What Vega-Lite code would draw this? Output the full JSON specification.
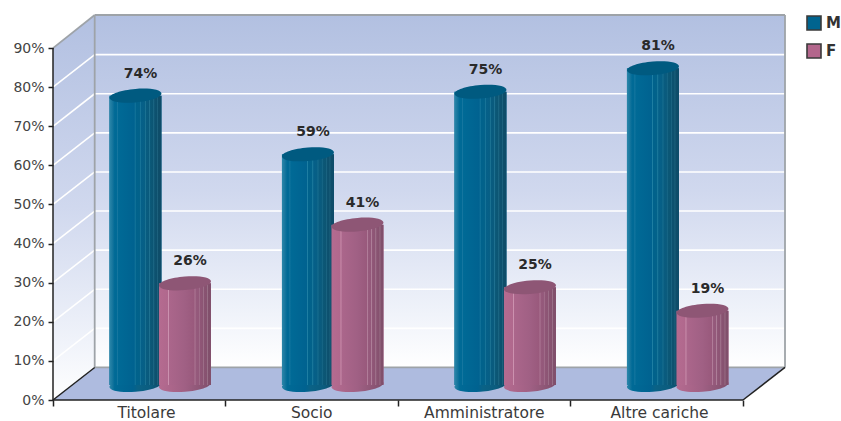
{
  "$schema": "https://vega.github.io/schema/vega-lite/v6.json",
  "width": 732,
  "height": 385,
  "autosize": "none",
  "padding": {"left": 53, "top": 15, "right": 56, "bottom": 21},
  "background": "#ffffff",
  "config": {"view": {"stroke": null}, "font": "DejaVu Sans"},
  "datasets": {
    "bars": [
      {"cat": "Titolare", "sex": "M", "x": 0.478, "y": 74, "label": "74%"},
      {"cat": "Titolare", "sex": "F", "x": 0.765, "y": 26, "label": "26%"},
      {"cat": "Socio", "sex": "M", "x": 1.478, "y": 59, "label": "59%"},
      {"cat": "Socio", "sex": "F", "x": 1.765, "y": 41, "label": "41%"},
      {"cat": "Amministratore", "sex": "M", "x": 2.478, "y": 75, "label": "75%"},
      {"cat": "Amministratore", "sex": "F", "x": 2.765, "y": 25, "label": "25%"},
      {"cat": "Altre cariche", "sex": "M", "x": 3.478, "y": 81, "label": "81%"},
      {"cat": "Altre cariche", "sex": "F", "x": 3.765, "y": 19, "label": "19%"}
    ],
    "bases": [
      {"sex": "M", "x": 0.478, "y": 0},
      {"sex": "F", "x": 0.765, "y": 0},
      {"sex": "M", "x": 1.478, "y": 0},
      {"sex": "F", "x": 1.765, "y": 0},
      {"sex": "M", "x": 2.478, "y": 0},
      {"sex": "F", "x": 2.765, "y": 0},
      {"sex": "M", "x": 3.478, "y": 0},
      {"sex": "F", "x": 3.765, "y": 0}
    ],
    "categories": [
      {"cat": "Titolare", "x": 0.542, "y": 0},
      {"cat": "Socio", "x": 1.5, "y": 0},
      {"cat": "Amministratore", "x": 2.5, "y": 0},
      {"cat": "Altre cariche", "x": 3.516, "y": 0}
    ],
    "leftWall": [
      {"x": 0, "y": 0, "y2": 90},
      {"x": 0.2417, "y": 8.32, "y2": 98.46}
    ],
    "backWall": [
      {"x": 0.2417, "x2": 4.2435, "y": 8.32, "y2": 98.46}
    ],
    "floor": [
      {"x": 0, "y": 0, "y2": 0},
      {"x": 0.2417, "y": 0, "y2": 8.32},
      {"x": 4, "y": 0, "y2": 8.32},
      {"x": 4.2435, "y": 8.32, "y2": 8.32}
    ],
    "grid": [
      {"x": 0, "x2": 0.2417, "y": 10, "y2": 18.32},
      {"x": 0, "x2": 0.2417, "y": 20, "y2": 28.32},
      {"x": 0, "x2": 0.2417, "y": 30, "y2": 38.32},
      {"x": 0, "x2": 0.2417, "y": 40, "y2": 48.32},
      {"x": 0, "x2": 0.2417, "y": 50, "y2": 58.32},
      {"x": 0, "x2": 0.2417, "y": 60, "y2": 68.32},
      {"x": 0, "x2": 0.2417, "y": 70, "y2": 78.32},
      {"x": 0, "x2": 0.2417, "y": 80, "y2": 88.32},
      {"x": 0.2417, "x2": 4.2435, "y": 18.32, "y2": 18.32},
      {"x": 0.2417, "x2": 4.2435, "y": 28.32, "y2": 28.32},
      {"x": 0.2417, "x2": 4.2435, "y": 38.32, "y2": 38.32},
      {"x": 0.2417, "x2": 4.2435, "y": 48.32, "y2": 48.32},
      {"x": 0.2417, "x2": 4.2435, "y": 58.32, "y2": 58.32},
      {"x": 0.2417, "x2": 4.2435, "y": 68.32, "y2": 68.32},
      {"x": 0.2417, "x2": 4.2435, "y": 78.32, "y2": 78.32},
      {"x": 0.2417, "x2": 4.2435, "y": 88.32, "y2": 88.32}
    ],
    "wallEdges": [
      {"x": 0, "x2": 0.2417, "y": 90, "y2": 98.46},
      {"x": 0.2417, "x2": 4.2435, "y": 98.46, "y2": 98.46},
      {"x": 0.2417, "x2": 0.2417, "y": 8.32, "y2": 98.46},
      {"x": 4.2435, "x2": 4.2435, "y": 8.32, "y2": 98.46},
      {"x": 0.2417, "x2": 4.2435, "y": 8.32, "y2": 8.32}
    ],
    "frame": [
      {"x": 0, "x2": 0, "y": 0, "y2": 90},
      {"x": 0, "x2": 4, "y": 0, "y2": 0},
      {"x": 0, "x2": 0.2417, "y": 0, "y2": 8.32},
      {"x": 4, "x2": 4.2435, "y": 0, "y2": 8.32}
    ]
  },
  "encoding": {
    "x": {
      "field": "x",
      "type": "quantitative",
      "scale": {"domain": [0, 4.2435], "nice": false, "zero": false},
      "axis": {
        "title": null,
        "values": [0, 1, 2, 3, 4],
        "labels": false,
        "grid": false,
        "domain": false,
        "ticks": true,
        "tickColor": "#222222",
        "tickSize": 6,
        "tickWidth": 1.5,
        "zindex": 1
      }
    },
    "y": {
      "field": "y",
      "type": "quantitative",
      "scale": {"domain": [0, 98.46], "nice": false, "zero": false},
      "axis": {
        "title": null,
        "values": [0, 10, 20, 30, 40, 50, 60, 70, 80, 90],
        "labelExpr": "datum.value + '%'",
        "labelFont": "DejaVu Sans",
        "labelFontSize": 14,
        "labelColor": "#444444",
        "labelPadding": 4,
        "grid": false,
        "domain": false,
        "tickColor": "#222222",
        "tickSize": 5,
        "tickWidth": 1.5,
        "zindex": 1
      }
    }
  },
  "layer": [
    {
      "data": {"name": "backWall"},
      "mark": {
        "type": "rect",
        "fill": {
          "x1": 0, "y1": 0, "x2": 0, "y2": 1, "gradient": "linear",
          "stops": [
            {"offset": 0, "color": "#b2c0e1"},
            {"offset": 0.5, "color": "#d0d8ee"},
            {"offset": 0.85, "color": "#f0f3fa"},
            {"offset": 1, "color": "#ffffff"}
          ]
        }
      },
      "encoding": {"x2": {"field": "x2"}, "y2": {"field": "y2"}}
    },
    {
      "data": {"name": "leftWall"},
      "mark": {
        "type": "area",
        "fill": {
          "x1": 0, "y1": 0, "x2": 0, "y2": 1, "gradient": "linear",
          "stops": [
            {"offset": 0, "color": "#b2c0e1"},
            {"offset": 0.5, "color": "#d0d8ee"},
            {"offset": 0.85, "color": "#f0f3fa"},
            {"offset": 1, "color": "#ffffff"}
          ]
        }
      },
      "encoding": {"y2": {"field": "y2"}}
    },
    {
      "data": {"name": "grid"},
      "mark": {"type": "rule", "color": "#ffffff", "strokeWidth": 1.6},
      "encoding": {"x2": {"field": "x2"}, "y2": {"field": "y2"}}
    },
    {
      "data": {"name": "floor"},
      "mark": {"type": "area", "fill": "#aebbdf"},
      "encoding": {"y2": {"field": "y2"}}
    },
    {
      "data": {"name": "wallEdges"},
      "mark": {"type": "rule", "color": "#9ea3a8", "strokeWidth": 1.8},
      "encoding": {"x2": {"field": "x2"}, "y2": {"field": "y2"}}
    },
    {
      "data": {"name": "frame"},
      "mark": {"type": "rule", "color": "#222222", "strokeWidth": 1.5},
      "encoding": {"x2": {"field": "x2"}, "y2": {"field": "y2"}}
    },
    {
      "data": {"name": "bars"},
      "mark": {"type": "rect", "xOffset": -26, "x2Offset": 26, "yOffset": -15, "y2Offset": -15},
      "encoding": {
        "x2": {"field": "x"},
        "y2": {"datum": 0},
        "color": {
          "field": "sex",
          "type": "nominal",
          "scale": {"domain": ["M", "F"], "range": ["#00648f", "#b3668c"]},
          "legend": {
            "title": null,
            "orient": "none",
            "legendX": 753,
            "legendY": 0,
            "symbolType": "square",
            "symbolSize": 196,
            "symbolStrokeColor": "#3a3a3a",
            "symbolStrokeWidth": 1.6,
            "symbolOpacity": 1,
            "labelFont": "DejaVu Sans",
            "labelFontWeight": "bold",
            "labelFontSize": 15,
            "labelColor": "#333333",
            "labelOffset": 4,
            "rowPadding": 6
          }
        }
      }
    },
    {
      "data": {"name": "bases"},
      "transform": [{"filter": "datum.sex == 'M'"}],
      "mark": {
        "type": "point",
        "filled": true,
        "opacity": 1,
        "size": 2704,
        "yOffset": -15,
        "shape": "M-1,.08C-1,-.064,-.552,-.216,0,-.26C.552,-.304,1,-.224,1,-.08C1,.064,.552,.216,0,.26C-.552,.304,-1,.224,-1,.08Z",
        "fill": {
          "x1": 0, "y1": 0, "x2": 1, "y2": 0, "gradient": "linear",
          "stops": [
            {"offset": 0, "color": "#2b87aa"},
            {"offset": 0.05, "color": "#1a789f"},
            {"offset": 0.1, "color": "#006a96"},
            {"offset": 0.45, "color": "#006290"},
            {"offset": 0.55, "color": "#0a6286"},
            {"offset": 0.8, "color": "#0b5c7e"},
            {"offset": 1, "color": "#0e4b68"}
          ]
        }
      }
    },
    {
      "data": {"name": "bars"},
      "transform": [{"filter": "datum.sex == 'M'"}],
      "mark": {
        "type": "rect",
        "xOffset": -26,
        "x2Offset": 26,
        "yOffset": -15,
        "y2Offset": -15,
        "fill": {
          "x1": 0, "y1": 0, "x2": 1, "y2": 0, "gradient": "linear",
          "stops": [
            {"offset": 0, "color": "#2b87aa"},
            {"offset": 0.05, "color": "#1a789f"},
            {"offset": 0.1, "color": "#006a96"},
            {"offset": 0.14, "color": "#006a96"},
            {"offset": 0.15, "color": "#1b7aa2"},
            {"offset": 0.17, "color": "#006a96"},
            {"offset": 0.48, "color": "#006290"},
            {"offset": 0.49, "color": "#2080a4"},
            {"offset": 0.51, "color": "#00628c"},
            {"offset": 0.58, "color": "#03628a"},
            {"offset": 0.59, "color": "#1f7d9f"},
            {"offset": 0.61, "color": "#056089"},
            {"offset": 0.68, "color": "#075f85"},
            {"offset": 0.69, "color": "#1e7595"},
            {"offset": 0.71, "color": "#085c80"},
            {"offset": 0.76, "color": "#0a5a7c"},
            {"offset": 0.77, "color": "#1e7090"},
            {"offset": 0.79, "color": "#0b5877"},
            {"offset": 0.84, "color": "#0c5573"},
            {"offset": 0.85, "color": "#1f6b88"},
            {"offset": 0.87, "color": "#0d5270"},
            {"offset": 0.91, "color": "#0d506d"},
            {"offset": 0.92, "color": "#1f6581"},
            {"offset": 0.94, "color": "#0e4e6a"},
            {"offset": 1, "color": "#0e4b68"}
          ]
        }
      },
      "encoding": {"x2": {"field": "x"}, "y2": {"datum": 0}}
    },
    {
      "data": {"name": "bars"},
      "transform": [{"filter": "datum.sex == 'M'"}],
      "mark": {
        "type": "point",
        "filled": true,
        "opacity": 1,
        "size": 2704,
        "yOffset": -15,
        "fill": "#005a80",
        "shape": "M-1,.08C-1,-.064,-.552,-.216,0,-.26C.552,-.304,1,-.224,1,-.08C1,.064,.552,.216,0,.26C-.552,.304,-1,.224,-1,.08Z"
      }
    },
    {
      "data": {"name": "bases"},
      "transform": [{"filter": "datum.sex == 'F'"}],
      "mark": {
        "type": "point",
        "filled": true,
        "opacity": 1,
        "size": 2704,
        "yOffset": -15,
        "shape": "M-1,.08C-1,-.064,-.552,-.216,0,-.26C.552,-.304,1,-.224,1,-.08C1,.064,.552,.216,0,.26C-.552,.304,-1,.224,-1,.08Z",
        "fill": {
          "x1": 0, "y1": 0, "x2": 1, "y2": 0, "gradient": "linear",
          "stops": [
            {"offset": 0, "color": "#b56b90"},
            {"offset": 0.5, "color": "#a06084"},
            {"offset": 1, "color": "#7f4f6b"}
          ]
        }
      }
    },
    {
      "data": {"name": "bars"},
      "transform": [{"filter": "datum.sex == 'F'"}],
      "mark": {
        "type": "rect",
        "xOffset": -26,
        "x2Offset": 26,
        "yOffset": -15,
        "y2Offset": -15,
        "fill": {
          "x1": 0, "y1": 0, "x2": 1, "y2": 0, "gradient": "linear",
          "stops": [
            {"offset": 0, "color": "#b56b90"},
            {"offset": 0.17, "color": "#b0688d"},
            {"offset": 0.18, "color": "#d29ab6"},
            {"offset": 0.2, "color": "#ab668b"},
            {"offset": 0.5, "color": "#a06084"},
            {"offset": 0.68, "color": "#99597c"},
            {"offset": 0.69, "color": "#b5829e"},
            {"offset": 0.71, "color": "#965a7c"},
            {"offset": 0.76, "color": "#93587a"},
            {"offset": 0.77, "color": "#ad7e98"},
            {"offset": 0.79, "color": "#905677"},
            {"offset": 0.84, "color": "#8c5574"},
            {"offset": 0.85, "color": "#a57a92"},
            {"offset": 0.87, "color": "#895372"},
            {"offset": 0.92, "color": "#86526f"},
            {"offset": 0.93, "color": "#9d758c"},
            {"offset": 0.95, "color": "#82506c"},
            {"offset": 1, "color": "#7f4f6b"}
          ]
        }
      },
      "encoding": {"x2": {"field": "x"}, "y2": {"datum": 0}}
    },
    {
      "data": {"name": "bars"},
      "transform": [{"filter": "datum.sex == 'F'"}],
      "mark": {
        "type": "point",
        "filled": true,
        "opacity": 1,
        "size": 2704,
        "yOffset": -15,
        "fill": "#8e5675",
        "shape": "M-1,.08C-1,-.064,-.552,-.216,0,-.26C.552,-.304,1,-.224,1,-.08C1,.064,.552,.216,0,.26C-.552,.304,-1,.224,-1,.08Z"
      }
    },
    {
      "data": {"name": "bars"},
      "mark": {
        "type": "text",
        "dx": 5,
        "dy": -37,
        "font": "DejaVu Sans",
        "fontWeight": "bold",
        "fontSize": 14,
        "color": "#2a2a2a"
      },
      "encoding": {"text": {"field": "label"}}
    },
    {
      "data": {"name": "categories"},
      "mark": {
        "type": "text",
        "dy": 13,
        "font": "DejaVu Sans",
        "fontSize": 15.5,
        "color": "#3a3a3a"
      },
      "encoding": {"text": {"field": "cat"}}
    }
  ]
}
